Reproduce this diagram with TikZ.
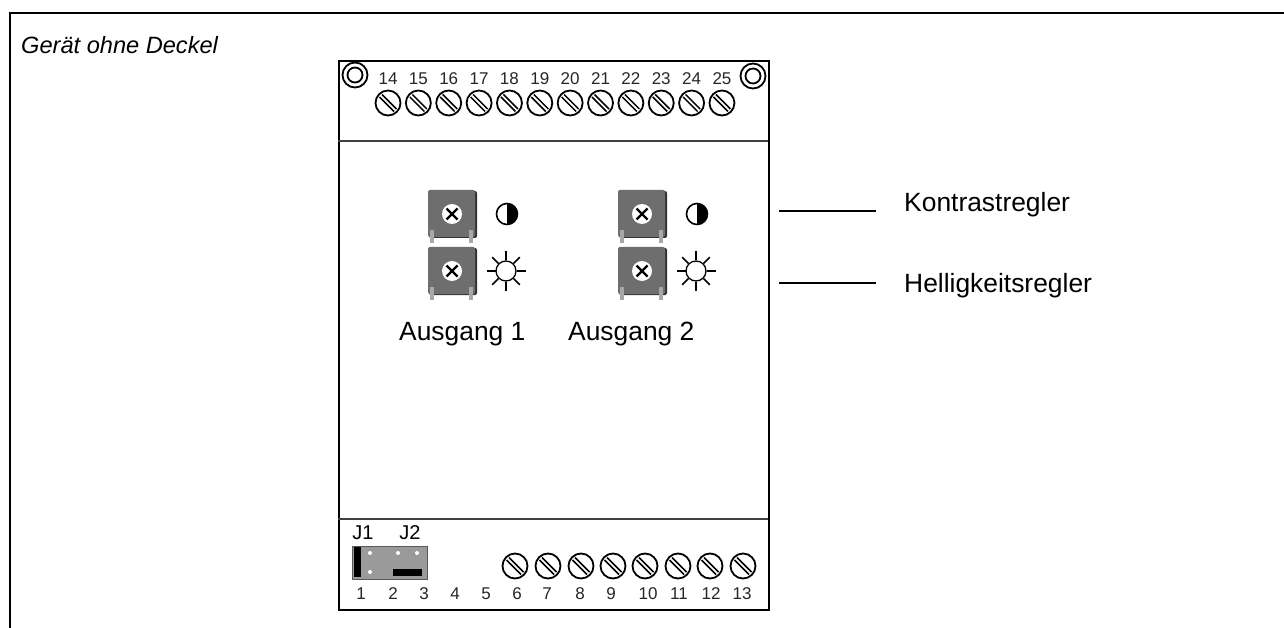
\documentclass[tikz,border=0pt]{standalone}
\usepackage{fontspec}
\usetikzlibrary{calc}
\setmainfont{Liberation Sans}
\definecolor{potgray}{HTML}{6E6E6E}
\definecolor{jumpgray}{HTML}{9A9A9A}
\definecolor{pingray}{HTML}{A8A8A8}
\tikzset{
  frameline/.style={draw=black,line width=2.7pt},
  leader/.style={draw=black,line width=1.7pt},
  numlabel/.style={font=\fontsize{17}{19}\selectfont,inner sep=0pt,anchor=base,text=black!85},
  biglabel/.style={font=\fontsize{26.4}{30}\selectfont,inner sep=0pt,anchor=base west},
  calllabel/.style={font=\fontsize{26.4}{30}\selectfont,inner sep=0pt,anchor=base west},
  jlabel/.style={font=\fontsize{20}{23}\selectfont,inner sep=0pt,anchor=base},
  screwring/.style={circle,draw=black,line width=1.8pt,minimum size=25pt,inner sep=0pt},
}
\newcommand{\screw}[2]{%
  \node[screwring] (#1) at #2 {};
  \draw[line width=1.5pt] ($(#1)+(-8.5,-6)$) -- ($(#1)+(6,8.5)$);
  \draw[line width=1.5pt] ($(#1)+(-6,-8.5)$) -- ($(#1)+(8.5,6)$);
}
\newcommand{\washer}[2]{%
  \node[circle,draw=black,line width=1.8pt,minimum size=25pt,inner sep=0pt] (#1) at #2 {};
  \node[circle,draw=black,line width=1.8pt,minimum size=15pt,inner sep=0pt] at #2 {};
}
\newcommand{\pot}[2]{%
  \fill[black!80,rounded corners=2pt] ($#2+(-23,-23)$) rectangle ($#2+(25,24)$);
  \fill[potgray,rounded corners=2pt] ($#2+(-24,-24)$) rectangle ($#2+(23,23)$);
  \fill[pingray] ($#2+(-22,16)$) rectangle ($#2+(-18,29)$);
  \fill[pingray] ($#2+(17,16)$) rectangle ($#2+(21,29)$);
  \node[circle,fill=white,minimum size=20pt,inner sep=0pt] (#1) at #2 {};
  \draw[line width=2.2pt] ($#2+(-5.5,-5.5)$) -- ($#2+(5.5,5.5)$);
  \draw[line width=2.2pt] ($#2+(-5.5,5.5)$) -- ($#2+(5.5,-5.5)$);
}
\newcommand{\halfmoon}[2]{%
  \node[circle,draw=black,line width=1.6pt,minimum size=21pt,inner sep=0pt] (#1) at #2 {};
  \fill[black] ($#2+(0,-10)$) arc (-90:90:10) -- cycle;
}
\newcommand{\sunicon}[2]{%
  \node[circle,draw=black,line width=1.3pt,minimum size=20pt,inner sep=0pt] (#1) at #2 {};
  \foreach \a in {0,45,...,315}{
    \draw[line width=1.7pt] ($#2+(\a:10.5)$) -- ($#2+(\a:19.5)$);
  }
}
\begin{document}
\begin{tikzpicture}[x=1pt,y=-1pt]
\useasboundingbox (0,0) rectangle (1284,628);
\fill[white] (0,0) rectangle (1284,628);
\coordinate (fa) at (10,628);
\coordinate (fb) at (10,13);
\coordinate (fc) at (1284,13);
\draw[frameline] (fa) -- (fb) -- (fc);
\node[font=\fontsize{23.6}{27}\selectfont\itshape,inner sep=0pt,anchor=base west] (title) at (21,54) {Gerät ohne Deckel};
% housing
\node[draw=black,line width=2pt,minimum width=430pt,minimum height=549pt,inner sep=0pt,anchor=north west] (box) at (338,60) {};
\coordinate (l1a) at (338,141); \coordinate (l1b) at (768,141);
\coordinate (l2a) at (338,519); \coordinate (l2b) at (768,519);
\draw[line width=1.8pt,black!75] (l1a) -- (l1b);
\draw[line width=1.8pt,black!75] (l2a) -- (l2b);
\washer{w1}{(355,75)}
\washer{w2}{(753,76)}
\foreach \n [count=\i from 0] in {14,...,25}{
  \pgfmathsetmacro{\xx}{388+30.36*\i}
  \node[numlabel] (t\n) at (\xx,85) {\n};
  \screw{s\n}{(\xx,103)}
}
\foreach \n/\xx in {1/361,2/393,3/424,4/455,5/486,6/517,7/547,8/580,9/611,10/648,11/679,12/711,13/742}{
  \node[numlabel] (b\n) at (\xx,599) {\n};
}
\foreach \n/\xx in {6/515,7/548,8/581,9/613,10/645,11/678,12/710,13/743}{
  \screw{q\n}{(\xx,566)}
}
% pots
\pot{p1}{(452,214)}
\pot{p2}{(452,271)}
\pot{p3}{(642,214)}
\pot{p4}{(642,271)}
\halfmoon{h1}{(507,214)}
\halfmoon{h2}{(697,214)}
\sunicon{u1}{(506,271)}
\sunicon{u2}{(696,271)}
\node[biglabel] (a1) at (399,340) {Ausgang 1};
\node[biglabel] (a2) at (568,340) {Ausgang 2};
% jumper
\node[jlabel] (j1) at (363,539) {J1};
\node[jlabel] (j2) at (410,539) {J2};
\fill[jumpgray,draw=black!65,line width=1pt] (352,546) rectangle (427,579);
\fill[black] (354,547) rectangle (361,577);
\fill[black] (393,569) rectangle (422,576);
\foreach \x/\y in {370/553,398/553,417/553,370/572}{\fill[white] (\x,\y) circle (2);}
% leaders
\coordinate (k0) at (779,211); \coordinate (k1) at (876,211);
\coordinate (h0) at (779,283); \coordinate (h1c) at (876,283);
\draw[leader] (k0) -- (k1);
\draw[leader] (h0) -- (h1c);
\node[calllabel] (kr) at (904,212) {Kontrastregler};
\node[calllabel] (hr) at (904,292) {Helligkeitsregler};
\end{tikzpicture}
\end{document}
